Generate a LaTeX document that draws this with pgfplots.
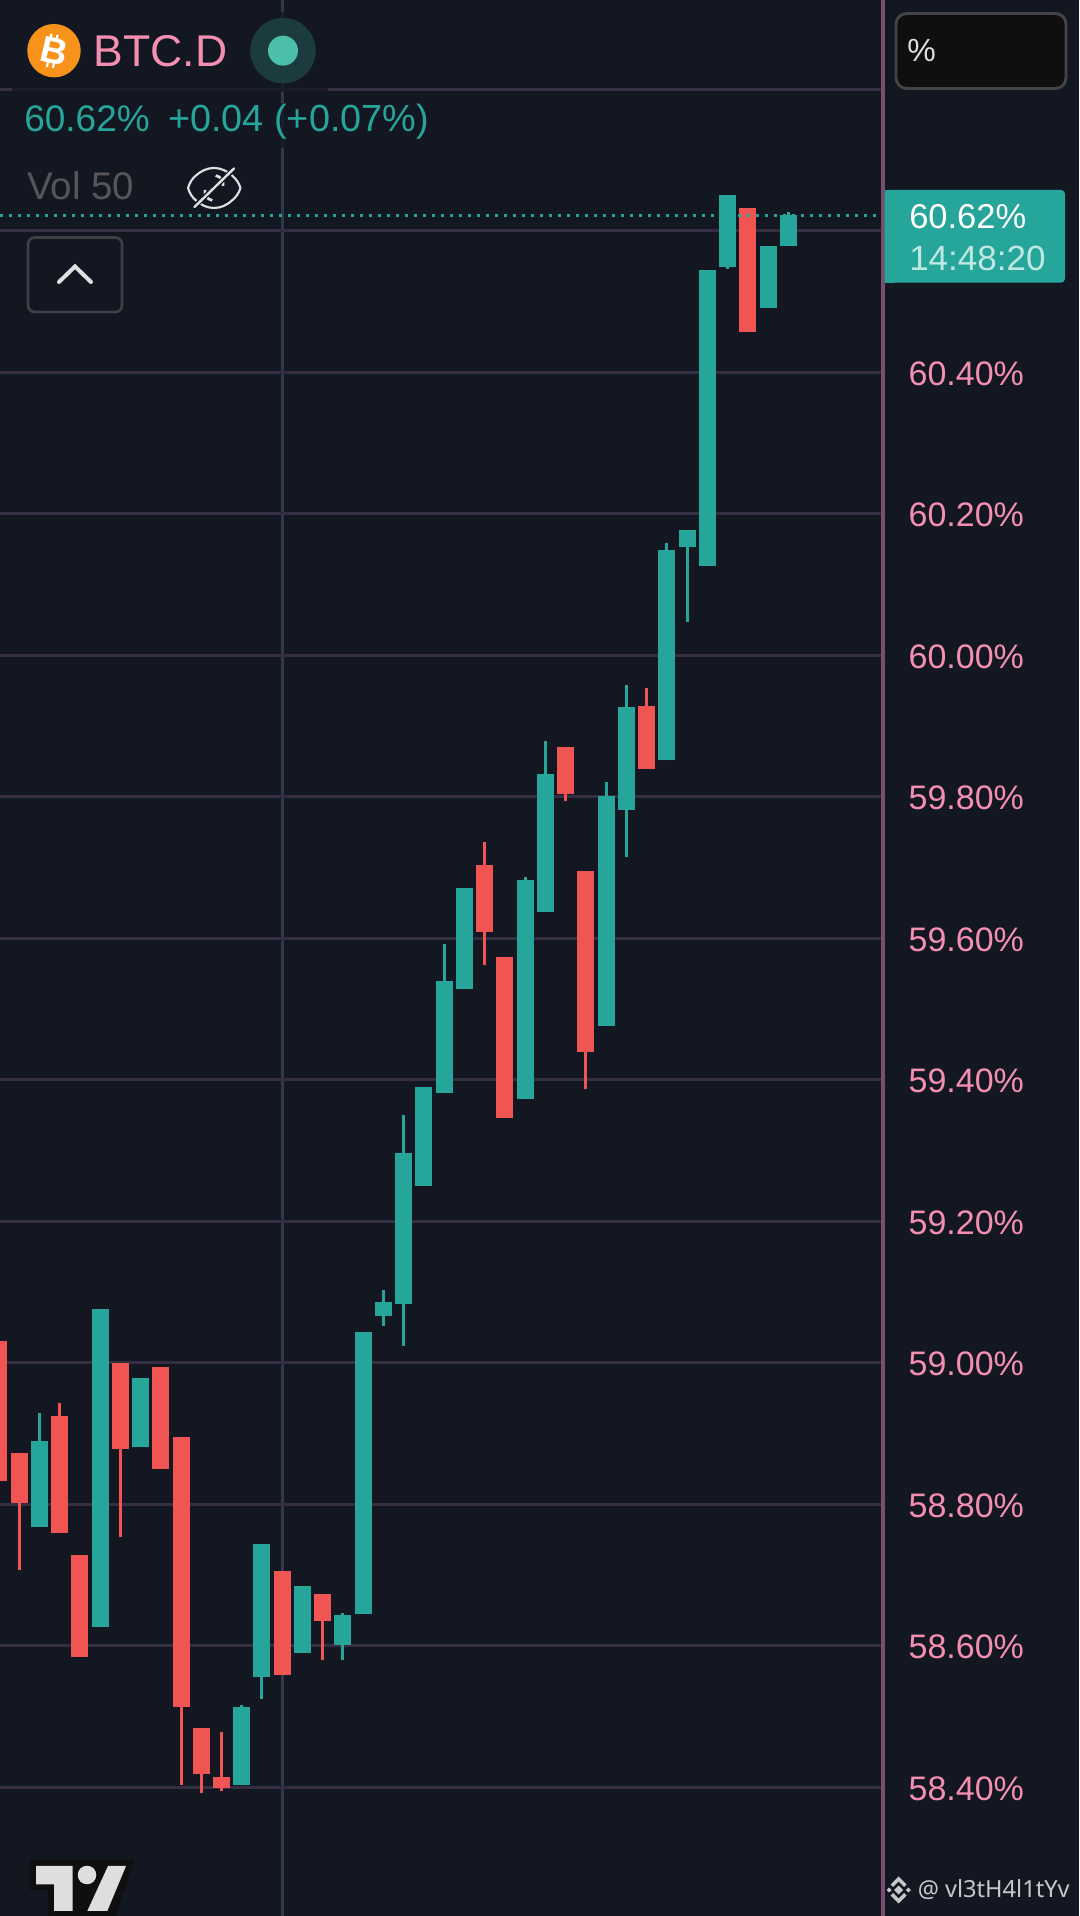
\documentclass[border=0pt]{standalone}
\usepackage{fontspec}
\setmainfont{Liberation Sans}
\newfontfamily\wm{Noto Sans}
\usepackage{pgfplots}
\usepackage{pgfplotstable}
\pgfplotsset{compat=1.18}
\definecolor{bg}{HTML}{131722}
\definecolor{teal1}{HTML}{26A69A}
\definecolor{red1}{HTML}{F15553}
\definecolor{gridc}{HTML}{352D42}
\definecolor{cross}{HTML}{2E3A4C}
\definecolor{axisc}{HTML}{7A4E6C}
\definecolor{pink1}{HTML}{F48FB1}
\definecolor{uigray}{HTML}{3F3F44}
\definecolor{btc}{HTML}{F7931A}
\definecolor{dotout}{HTML}{1C3B3F}
\definecolor{dotin}{HTML}{4CBFA9}
\definecolor{volc}{HTML}{58555A}
\definecolor{boxb}{HTML}{444446}
\definecolor{boxf}{HTML}{0F0F0F}
\definecolor{timec}{HTML}{BFE8E3}
\definecolor{lite}{HTML}{E0E0E0}
\definecolor{wmc}{HTML}{C8C8C8}
\definecolor{tvl}{HTML}{DEDEDE}
\newcommand{\px}[1]{\fontsize{\the\dimexpr #1pt*3/4\relax}{\the\dimexpr #1pt*9/10\relax}\selectfont}
\pgfplotstableread{
i top bot high low
2 58.889 58.768 58.929 58.768
5 59.076 58.626 59.076 58.626
7 58.978 58.880 58.978 58.880
12 58.513 58.403 58.516 58.403
13 58.743 58.556 58.743 58.525
15 58.684 58.590 58.684 58.590
17 58.643 58.601 58.646 58.580
18 59.043 58.644 59.043 58.644
19 59.086 59.066 59.102 59.051
20 59.296 59.083 59.350 59.024
21 59.389 59.249 59.389 59.249
22 59.539 59.381 59.592 59.381
23 59.671 59.528 59.671 59.528
26 59.682 59.373 59.686 59.373
27 59.832 59.637 59.878 59.637
30 59.801 59.475 59.821 59.475
31 59.927 59.781 59.958 59.715
33 60.148 59.851 60.158 59.851
34 60.177 60.152 60.177 60.047
35 60.544 60.126 60.544 60.126
36 60.650 60.549 60.650 60.546
38 60.578 60.491 60.578 60.491
39 60.622 60.578 60.626 60.578
}\upcandles
\pgfplotstableread{
i top bot high low
0 59.031 58.832 59.031 58.832
1 58.872 58.802 58.872 58.707
3 58.925 58.759 58.943 58.759
4 58.728 58.584 58.728 58.584
6 58.999 58.878 58.999 58.754
8 58.994 58.850 58.994 58.850
9 58.895 58.513 58.895 58.403
10 58.483 58.419 58.483 58.391
11 58.414 58.398 58.478 58.394
14 58.705 58.559 58.705 58.559
16 58.673 58.635 58.673 58.580
24 59.703 59.609 59.736 59.562
25 59.573 59.345 59.573 59.345
28 59.870 59.803 59.870 59.793
29 59.695 59.439 59.695 59.386
32 59.928 59.839 59.953 59.839
37 60.632 60.457 60.632 60.457
}\downcandles
\pgfplotsset{
  wick/.style={draw=none, no markers, forget plot,
    error bars/.cd, y dir=both, y explicit, error mark=none,
    error bar style={draw=#1, line width=2.25pt, line cap=butt}},
  body/.style={draw=none, no markers, forget plot,
    error bars/.cd, y dir=plus, y explicit, error mark=none,
    error bar style={draw=#1, line width=12.75pt, line cap=butt}},
}
\begin{document}
\begin{tikzpicture}
\useasboundingbox (0,0) rectangle (809.25pt,1437pt);
\fill[bg] (0,0) rectangle (809.25pt,1437pt);
\begin{axis}[
  at={(0,0)}, anchor=south west,
  scale only axis, width=662.25pt, height=1437pt,
  xmin=0.058, xmax=43.68, ymin=58.2177, ymax=60.9258,
  axis y line*=right, axis x line*=bottom,
  x axis line style={draw=none},
  y axis line style={draw=axisc, line width=2.6pt, -},
  xtick={14}, xticklabels={},
  ytick={58.4,58.6,58.8,59.0,59.2,59.4,59.6,59.8,60.0,60.2,60.4,60.6,60.8},
  yticklabels={58.40\%,58.60\%,58.80\%,59.00\%,59.20\%,59.40\%,59.60\%,59.80\%,60.00\%,60.20\%,60.40\%,,},
  yticklabel style={anchor=west, inner sep=0pt, xshift=19pt, yshift=-1pt, text=pink1, font=\px{34}},
  major tick length=0pt,
  xmajorgrids, ymajorgrids,
  x grid style={draw=cross, line width=2.25pt},
  y grid style={draw=gridc, line width=2.25pt},
  clip=true,
]
\addplot[wick=teal1] table[x=i, y=bot, y error plus expr=\thisrow{high}-\thisrow{bot}, y error minus expr=\thisrow{bot}-\thisrow{low}] {\upcandles};
\addplot[wick=red1] table[x=i, y=bot, y error plus expr=\thisrow{high}-\thisrow{bot}, y error minus expr=\thisrow{bot}-\thisrow{low}] {\downcandles};
\addplot[body=teal1] table[x=i, y=bot, y error plus expr=\thisrow{top}-\thisrow{bot}] {\upcandles};
\addplot[body=red1] table[x=i, y=bot, y error plus expr=\thisrow{top}-\thisrow{bot}] {\downcandles};
\addplot[teal1, line width=2.25pt, dash pattern=on 2.25pt off 4.5pt, forget plot] coordinates {(0.058,60.6215) (43.4,60.6215)};
\end{axis}
\begin{scope}[x=0.75pt, y=-0.75pt, yshift=1437pt]
  % dim backings behind legend text
  \fill[bg, opacity=.75] (12,12) rectangle (328,92);
  \fill[bg, opacity=.8] (12,103) rectangle (432,148);
  % bitcoin logo
  \fill[btc] (54,50.7) circle (26.7);
  \node[text=white, font=\px{37}\bfseries, rotate=-13, inner sep=0] at (54,50.7) {B};
  \draw[white, line width=1.7pt] (51.5,34) -- (50.5,39) (57.5,35) -- (56.5,40) (48,61) -- (47,67) (54,62.5) -- (53,68);
  \node[anchor=base west, inner sep=0, text=pink1, font=\px{44.5}] at (93.5,66.7) {BTC.D};
  % status dot
  \fill[dotout] (283,50.7) circle (32.7);
  \fill[dotin] (283,50.7) circle (15);
  % ohlc line
  \node[anchor=base west, inner sep=0, text=teal1, font=\px{37}] at (24,132) {60.62\%};
  \node[anchor=base west, inner sep=0, text=teal1, font=\px{37.8}] at (168,132) {+0.04 (+0.07\%)};
  % vol
  \node[anchor=base west, inner sep=0, font=\px{38.5}, text=volc] at (27,200) {Vol 50};
  % eye
  \draw[lite, line width=1.6pt, line join=round]
    (188,188) .. controls (190,182) and (192,179) .. (196,175.5)
    .. controls (201,171) and (207,168) .. (214,168)
    .. controls (221,168) and (227,171) .. (232,175.5)
    .. controls (236,179) and (238.5,182) .. (240.5,188)
    .. controls (238.5,194) and (236,197) .. (232,200.5)
    .. controls (227,205) and (221,208) .. (214,208)
    .. controls (207,208) and (201,205) .. (196,200.5)
    .. controls (192,197) and (190,194) .. (188,188) -- cycle;
  \draw[lite, line width=2pt] (205,190) arc (190:100:9);
  \draw[lite, line width=2pt] (223,186) arc (10:-80:9);
  \draw[bg, line width=3.8pt] (194,207) -- (234,169);
  \draw[lite, line width=1.8pt, line cap=round] (194.5,207) -- (234,168.5);
  % chevron button
  \draw[uigray, line width=2pt, rounded corners=5pt] (28,237.5) rectangle (122,312);
  \draw[lite, line width=3pt, line cap=round, line join=miter] (59,282) -- (75,266.5) -- (91,282);
  % percent box
  \draw[boxb, fill=boxf, line width=2.2pt, rounded corners=8pt] (896,13.5) rectangle (1066,88.5);
  \node[anchor=base west, inner sep=0, font=\px{32}, text=lite] at (907,62) {\%};
  % price label
  \fill[teal1, rounded corners=3pt] (884.7,190) rectangle (1065,282.7);
  \fill[teal1] (884.7,190) rectangle (895,282.7);
  \node[anchor=base west, inner sep=0, font=\px{34.5}, text=white] at (909,228.3) {60.62\%};
  \node[anchor=base west, inner sep=0, font=\px{35}, text=timec] at (909,270.7) {14:48:20};
  % watermark
  \fill[wmc] (898.7,1885.5) -- (903.2,1890) -- (898.7,1894.5) -- (894.2,1890) -- cycle;
  \fill[wmc] (889,1887.5) -- (891.5,1890) -- (889,1892.5) -- (886.5,1890) -- cycle;
  \fill[wmc] (908.4,1887.5) -- (910.9,1890) -- (908.4,1892.5) -- (905.9,1890) -- cycle;
  \fill[wmc] (898.7,1876.5) -- (906.7,1884.5) -- (904.2,1887) -- (898.7,1881.5) -- (893.2,1887) -- (890.7,1884.5) -- cycle;
  \fill[wmc] (898.7,1903.5) -- (906.7,1895.5) -- (904.2,1893) -- (898.7,1898.5) -- (893.2,1893) -- (890.7,1895.5) -- cycle;
  \node[anchor=base west, inner sep=0, font=\wm\px{23.6}, text=wmc] at (917.5,1898) {@ vl3tH4l1tYv};
  % tradingview logo
  \fill[boxf] (30,1860) -- (134,1860) -- (116,1916) -- (48.3,1916) -- (48.3,1890) -- (30,1890) -- cycle;
  \fill[tvl] (36,1866) -- (72.7,1866) -- (72.7,1911) -- (54,1911) -- (54,1884.3) -- (36,1884.3) -- cycle;
  \fill[tvl] (87,1875) circle (9.3);
  \fill[tvl] (108,1866) -- (126,1866) -- (107.3,1911) -- (87.3,1911) -- cycle;
\end{scope}
\end{tikzpicture}
\end{document}
